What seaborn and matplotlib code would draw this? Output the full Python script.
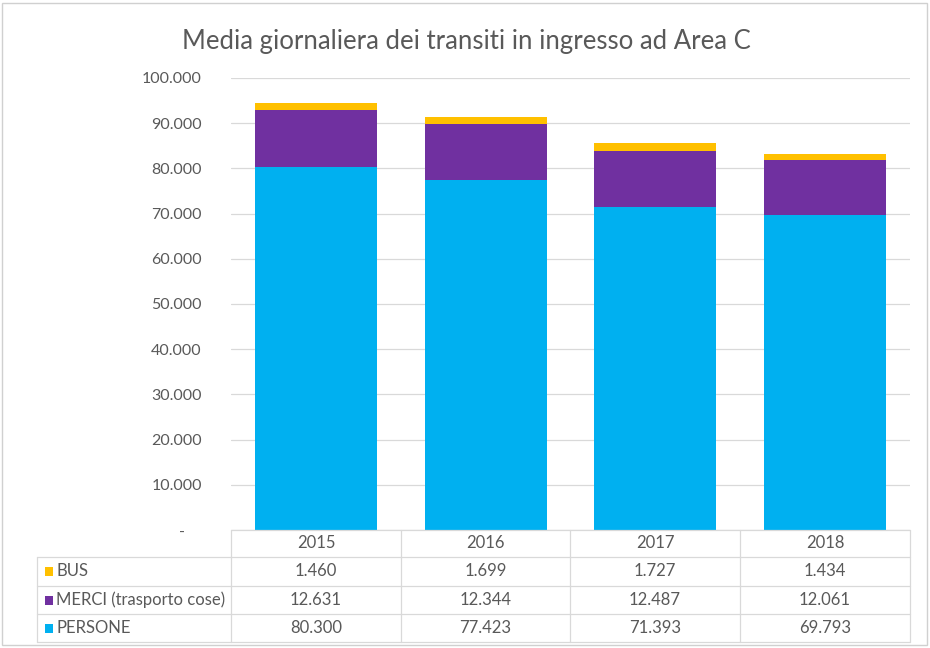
import matplotlib
matplotlib.use("Agg")
import matplotlib.pyplot as plt
import seaborn as sns
import pandas as pd
import numpy as np
from matplotlib.lines import Line2D
from matplotlib.patches import Rectangle
from matplotlib.ticker import FuncFormatter

years = ["2015", "2016", "2017", "2018"]
persone = [80300, 77423, 71393, 69793]
merci = [12631, 12344, 12487, 12061]
bus = [1460, 1699, 1727, 1434]
series_names = ["BUS", "MERCI (trasporto cose)", "PERSONE"]
title = "Media giornaliera dei transiti in ingresso ad Area C"
yticks = [0, 10000, 20000, 30000, 40000, 50000, 60000, 70000, 80000, 90000, 100000]

C_PERS = "#00B0F0"
C_MERCI = "#7030A0"
C_BUS = "#FFC000"
GRID = "#D9D9D9"
TXT = "#595959"

sns.set_theme(style="white")
plt.rcParams["font.family"] = ["Lato", "DejaVu Sans"]

W, H = 930, 648
fig = plt.figure(figsize=(W / 100, H / 100), dpi=100)
fig.patch.set_facecolor("white")

def fx(x):
    return x / W

def fy(y):
    return 1 - y / H

ax_left, ax_right, ax_top, ax_bot = 231, 910, 78, 530
ax = fig.add_axes([fx(ax_left), fy(ax_bot), fx(ax_right - ax_left), (ax_bot - ax_top) / H])

df = pd.DataFrame({"year": years, "persone": persone, "merci": merci, "bus": bus})
df["lvl2"] = df["persone"] + df["merci"]
df["lvl3"] = df["lvl2"] + df["bus"]

for col, c in [("lvl3", C_BUS), ("lvl2", C_MERCI), ("persone", C_PERS)]:
    sns.barplot(data=df, x="year", y=col, color=c, saturation=1, width=0.72,
                ax=ax, linewidth=0, zorder=3)

ax.set_ylim(0, 100000)
ax.set_xlim(-0.5, 3.5)
ax.set_yticks(yticks)

def fmt(v, pos):
    if v == 0:
        return "-    "
    return f"{int(v):,}".replace(",", ".")

ax.yaxis.set_major_formatter(FuncFormatter(fmt))
ax.tick_params(axis="y", length=0, pad=21, labelsize=11.5, labelcolor=TXT)
ax.set_xticks([])
ax.set_xlabel("")
ax.set_ylabel("")
ax.yaxis.grid(True, color=GRID, linewidth=0.9, zorder=0)
ax.set_axisbelow(True)
for s in ax.spines.values():
    s.set_visible(False)

fig.text(fx(466), fy(41), title, ha="center", va="center", fontsize=18.5,
         color=TXT, fontweight="normal")

# data table
col_x = [231, 401, 570, 740, 910]
row_y = [530, 557, 586, 614, 642]
lab_left = 37

def hline(x0, x1, y):
    fig.add_artist(Line2D([fx(x0), fx(x1)], [fy(y), fy(y)], color=GRID, lw=0.9,
                          transform=fig.transFigure))

def vline(x, y0, y1):
    fig.add_artist(Line2D([fx(x), fx(x)], [fy(y0), fy(y1)], color=GRID, lw=0.9,
                          transform=fig.transFigure))

hline(col_x[0], col_x[-1], row_y[0])
for y in row_y[1:]:
    hline(lab_left, col_x[-1], y)
for x in col_x:
    vline(x, row_y[0], row_y[-1])
vline(lab_left, row_y[1], row_y[-1])

FS = 12
for i, yr in enumerate(years):
    cx = (col_x[i] + col_x[i + 1]) / 2
    fig.text(fx(cx), fy((row_y[0] + row_y[1]) / 2), yr, ha="center", va="center",
             fontsize=FS, color=TXT)

rows = [(series_names[0], bus, C_BUS), (series_names[1], merci, C_MERCI),
        (series_names[2], persone, C_PERS)]
for r, (name, vals, c) in enumerate(rows):
    cy = (row_y[r + 1] + row_y[r + 2]) / 2
    fig.add_artist(Rectangle((fx(45), fy(cy + 4.5)), fx(8), 9 / H, facecolor=c,
                             edgecolor="none", transform=fig.transFigure))
    fig.text(fx(56), fy(cy), name, ha="left", va="center", fontsize=FS, color=TXT)
    for i, v in enumerate(vals):
        cx = (col_x[i] + col_x[i + 1]) / 2
        fig.text(fx(cx), fy(cy), f"{v:,}".replace(",", "."), ha="center", va="center",
                 fontsize=FS, color=TXT)

# outer chart border
fig.add_artist(Rectangle((fx(2), fy(645)), fx(925), 642 / H, facecolor="none",
                         edgecolor="#D0D0D0", lw=1.0, transform=fig.transFigure))

fig.savefig("out.png", dpi=100)
